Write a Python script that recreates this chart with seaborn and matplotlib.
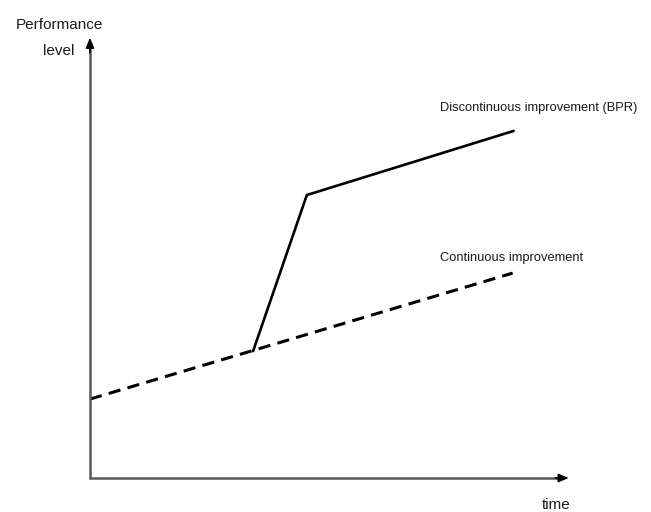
import matplotlib
matplotlib.use('Agg')
import matplotlib.pyplot as plt
import seaborn as sns

# Data (arbitrary units: time 0-10, performance 0-10)
continuous_time = [0.0, 8.81]
continuous_perf = [1.81, 4.70]

bpr_time = [3.40, 4.52, 8.83]
bpr_perf = [2.91, 6.49, 7.96]

sns.set_style('white')
plt.rcParams['font.family'] = ['Liberation Sans', 'DejaVu Sans']

fig = plt.figure(figsize=(6.51, 5.12), dpi=100)
ax = fig.add_axes([0.1382, 0.0664, 0.737, 0.8516])

# Continuous improvement (dashed)
sns.lineplot(x=continuous_time, y=continuous_perf, ax=ax, color='black',
             linewidth=2.2, linestyle=(0, (4.0, 2.4)))
# Discontinuous improvement (solid)
sns.lineplot(x=bpr_time, y=bpr_perf, ax=ax, color='black', linewidth=1.9,
             sort=False)

ax.set_xlim(0, 10)
ax.set_ylim(0, 10)
ax.set_xticks([])
ax.set_yticks([])
for s in ax.spines.values():
    s.set_visible(False)

# Axes lines (grey) with black arrow heads
ax.plot([0, 0.985], [0, 0], transform=ax.transAxes, color='#5a5a5a', lw=1.8, clip_on=False)
ax.plot([0, 0], [0, 0.99], transform=ax.transAxes, color='#5a5a5a', lw=1.8, clip_on=False)
head = dict(arrowstyle='-|>,head_length=0.6,head_width=0.25', fc='black',
            ec='black', lw=1.2, shrinkA=0, shrinkB=0)
ax.annotate('', xy=(0.998, 0), xytext=(0.97, 0), xycoords='axes fraction', arrowprops=head)
ax.annotate('', xy=(0, 1.01), xytext=(0, 0.975), xycoords='axes fraction', arrowprops=head)

# Labels
fig.text(59 / 651, 1 - 25 / 512, 'Performance', ha='center', va='center',
         fontsize=11, color='#1a1a1a')
fig.text(59 / 651, 1 - 51 / 512, 'level', ha='center', va='center',
         fontsize=11, color='#1a1a1a')
fig.text(556 / 651, 1 - 505 / 512, 'time', ha='center', va='center',
         fontsize=11, color='#1a1a1a')
fig.text(440 / 651, 1 - 108 / 512, 'Discontinuous improvement (BPR)', ha='left',
         va='center', fontsize=9.3, color='#1a1a1a')
fig.text(440 / 651, 1 - 258 / 512, 'Continuous improvement', ha='left',
         va='center', fontsize=9.3, color='#1a1a1a')

fig.savefig('out.png', dpi=100)
